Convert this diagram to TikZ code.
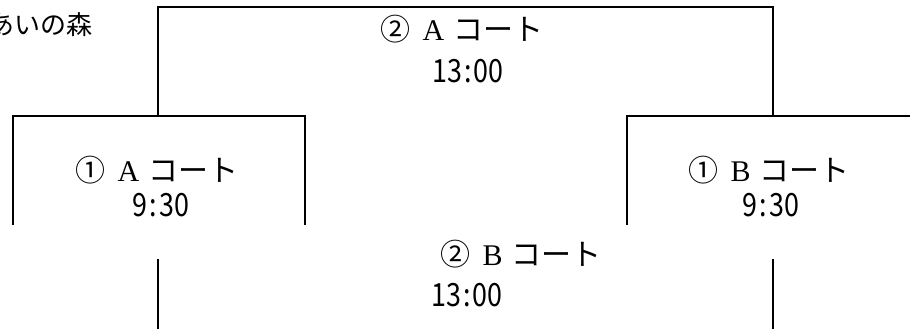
\documentclass[tikz,border=0pt]{standalone}
\usepackage{fontspec}
\setmainfont{Liberation Serif}
\newfontfamily\jpfont{Noto Sans CJK JP}
\newfontfamily\clockfont{Noto Sans CJK JP}[FakeStretch=0.84]
\newcommand{\courtname}[2]{#1\hspace{0.4em}{\rmfamily #2}\hspace{0.3em}コート}
\newcommand{\hhmm}[2]{#1\kern2pt:\kern2pt#2}

\begin{document}
\begin{tikzpicture}[x=1pt, y=-1pt]
% Stili
\tikzset{
  bracket/.style={line width=2.8pt, line cap=rect},
  court/.style={font=\jpfont\fontsize{30}{34}\selectfont, inner sep=0pt},
  clock/.style={font=\clockfont\fontsize{32}{36}\selectfont, inner sep=0pt}
}

\useasboundingbox (0,0) rectangle (910,329);

% Punti del tabellone
\coordinate (A1L) at (13,224);
\coordinate (A1R) at (305,224);
\coordinate (B1L) at (627,224);
\coordinate (B1R) at (915,116);
\coordinate (A2L) at (158,116);
\coordinate (A2R) at (773,116);
\coordinate (B2L) at (158,260);
\coordinate (B2R) at (773,260);

% --- TABELLONE ---
\draw[bracket] (A2L) -- (158,7) -- (773,7) -- (A2R);
\draw[bracket] (A1L) -- (13,116) -- (305,116) -- (A1R);
\draw[bracket] (B1L) -- (627,116) -- (B1R);
\draw[bracket] (B2L) -- (158,335);
\draw[bracket] (B2R) -- (773,335);

% --- TESTI ---
\node[court, font=\jpfont\fontsize{26}{30}\selectfont, anchor=west] (venue) at (-12,25) {あいの森};

\node[court] (courtA2) at (462,29) {\courtname{②}{A}};
\node[clock] (timeA2) at (468,71) {\hhmm{13}{00}};

\node[court] (courtA1) at (157,170) {\courtname{①}{A}};
\node[clock] (timeA1) at (161,205) {\hhmm{9}{30}};

\node[court] (courtB1) at (769,170) {\courtname{①}{B}};
\node[clock] (timeB1) at (771,205) {\hhmm{9}{30}};

\node[court] (courtB2) at (521,254) {\courtname{②}{B}};
\node[clock] (timeB2) at (467,295) {\hhmm{13}{00}};

\end{tikzpicture}
\end{document}
